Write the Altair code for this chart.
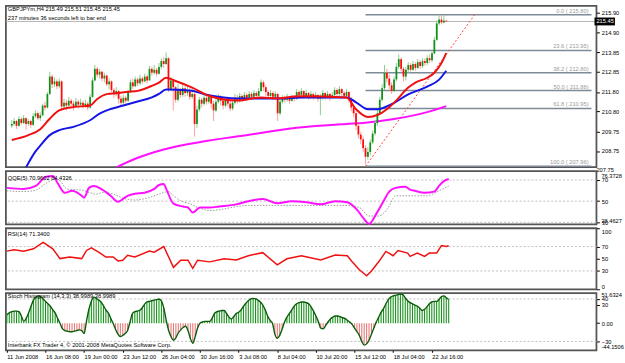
import altair as alt
import pandas as pd

FONT = "Liberation Sans"
FS = 5.8

symbol_title = "GBPJPYm,H4  215.49 215.51 215.45 215.45"
timer_text = "237 minutes 36 seconds left to bar end"
qqe_title = "QQE(5) 70.9602 64.4326"
rsi_title = "RSI(14) 71.3400"
stoch_title = "Stoch Histogram (14,3,3) 38.9989 38.9989"
copyright_text = "Interbank FX Trader 4, \u00a9 2001-2008 MetaQuotes Software Corp."

# ---------------- candles (H4 bars) ----------------
bar_close = [
    210.15, 210.30, 210.05, 210.40, 210.20, 210.45, 210.15, 210.30, 210.10, 210.55,
    210.70, 210.45, 210.60, 211.10, 211.00, 211.70, 212.60, 212.20, 212.35, 212.10,
    212.35, 211.05, 211.25, 211.10, 211.35, 211.20, 211.05, 211.30, 211.15, 211.25,
    211.10, 211.20, 211.00, 211.55, 212.40, 213.00, 212.70, 212.85, 212.50, 212.65,
    212.20, 212.35, 211.90, 211.70, 211.85, 211.45, 211.25, 211.50, 211.35, 211.80,
    212.30, 212.10, 212.45, 212.25, 212.50, 212.35, 212.60, 212.40, 213.00, 212.80,
    212.95, 212.75, 213.10, 213.40, 213.25, 213.55, 211.95, 212.40, 212.05, 211.40,
    211.90, 211.65, 212.00, 211.75, 211.90, 211.55, 211.70, 210.15, 210.90, 211.40,
    211.20, 211.50, 211.30, 211.55, 211.20, 210.85, 211.30, 211.55, 211.35, 211.10,
    211.40, 211.20, 210.95, 211.25, 211.50, 211.35, 211.60, 211.45, 211.65, 211.50,
    211.70, 211.55, 211.75, 211.60, 211.85, 212.30, 212.05, 211.80, 211.60, 211.75,
    211.55, 211.70, 210.70, 211.30, 211.50, 211.40, 211.55, 211.35, 211.50, 211.45,
    211.80, 211.65, 211.85, 211.60, 211.75, 211.55, 211.70, 211.50, 211.65, 211.45,
    211.50, 211.75, 211.55, 211.70, 211.50, 211.65, 211.90, 211.70, 211.95, 211.75,
    211.60, 211.80, 211.45, 211.00, 210.70, 210.05, 209.60, 209.35, 208.90, 208.45,
    208.70, 209.20, 209.65, 210.20, 210.70, 211.40, 212.00, 212.80, 212.50, 212.15,
    211.85, 212.45, 213.10, 213.50, 213.00, 212.60, 212.95, 213.20, 212.95, 213.25,
    213.05, 213.35, 213.15, 213.40, 213.30, 213.55, 213.45, 213.80, 214.50, 215.35,
    215.55, 215.40, 215.49, 215.45,
]
bar_high = [
    210.35, 210.45, 210.35, 210.55, 210.50, 210.60, 210.50, 210.40, 210.35, 210.70,
    210.85, 210.80, 210.75, 211.20, 211.30, 211.80, 212.85, 212.70, 212.55, 212.45,
    212.50, 212.40, 211.45, 211.40, 211.55, 211.45, 211.35, 211.50, 211.40, 211.45,
    211.35, 211.40, 211.30, 211.70, 212.55, 213.20, 213.10, 213.00, 212.90, 212.80,
    212.70, 212.50, 212.40, 212.00, 212.05, 211.90, 211.60, 211.65, 211.60, 211.90,
    212.45, 212.50, 212.60, 212.55, 212.70, 212.60, 212.75, 212.70, 213.15, 213.10,
    213.20, 213.05, 213.30, 213.55, 213.60, 213.85, 213.60, 212.55, 212.45, 212.10,
    212.20, 212.00, 212.25, 212.10, 212.15, 212.00, 211.95, 211.80, 211.10, 211.55,
    211.50, 211.65, 211.60, 211.70, 211.60, 211.35, 211.45, 211.70, 211.65, 211.50,
    211.55, 211.50, 211.35, 211.40, 211.70, 211.65, 211.75, 211.70, 211.80, 211.75,
    211.85, 211.80, 211.90, 211.85, 212.00, 212.45, 212.40, 212.15, 211.90, 211.90,
    211.85, 211.85, 211.75, 211.45, 211.65, 211.60, 211.70, 211.60, 211.65, 211.65,
    211.95, 211.90, 212.00, 211.90, 211.90, 211.80, 211.85, 211.75, 211.80, 211.70,
    211.70, 211.90, 211.80, 211.85, 211.75, 211.80, 212.05, 212.00, 212.10, 212.00,
    211.85, 211.95, 211.85, 211.55, 211.10, 210.80, 210.15, 209.75, 209.50, 209.05,
    208.95, 209.35, 209.80, 210.35, 210.90, 211.55, 212.20, 213.20, 213.00, 212.70,
    212.30, 212.60, 213.30, 213.75, 213.60, 213.10, 213.10, 213.35, 213.30, 213.40,
    213.35, 213.50, 213.45, 213.55, 213.55, 213.70, 213.75, 213.90, 214.65, 215.50,
    215.80, 215.75, 215.78, 215.51,
]
bar_low = [
    209.95, 210.05, 209.90, 210.00, 210.10, 210.15, 209.85, 210.05, 209.95, 210.05,
    210.45, 210.35, 210.30, 210.55, 210.85, 210.95, 211.65, 212.00, 212.05, 211.95,
    212.00, 210.90, 210.95, 210.85, 211.05, 211.00, 210.85, 211.00, 210.95, 211.05,
    210.95, 211.00, 210.85, 210.95, 211.50, 212.35, 212.55, 212.50, 212.35, 212.30,
    212.10, 211.95, 211.80, 211.50, 211.60, 211.20, 211.05, 211.15, 211.20, 211.30,
    211.75, 211.95, 212.05, 212.10, 212.15, 212.20, 212.30, 212.25, 212.40, 212.65,
    212.70, 212.60, 212.70, 213.00, 213.05, 213.20, 211.80, 211.85, 210.85, 211.25,
    211.30, 211.50, 211.55, 211.55, 211.60, 211.40, 211.45, 209.50, 209.95, 210.80,
    211.00, 211.10, 211.15, 211.20, 210.95, 210.30, 210.75, 211.20, 211.10, 210.90,
    211.00, 211.05, 210.80, 210.85, 211.15, 211.20, 211.25, 211.30, 211.35, 211.35,
    211.40, 211.40, 211.45, 211.45, 211.50, 211.80, 211.85, 211.60, 211.45, 211.45,
    211.40, 211.45, 210.30, 210.60, 211.20, 211.25, 211.30, 211.20, 211.30, 211.30,
    211.40, 211.50, 211.55, 211.45, 211.50, 211.40, 211.45, 211.40, 211.45, 211.30,
    210.60, 211.40, 211.40, 211.45, 211.35, 211.45, 211.55, 211.55, 211.60, 211.55,
    211.45, 211.50, 211.25, 210.80, 210.50, 209.85, 209.40, 209.10, 208.70, 208.06,
    208.30, 208.55, 209.10, 209.55, 210.05, 210.60, 211.30, 211.90, 212.30, 211.95,
    211.70, 211.80, 212.35, 213.00, 212.85, 212.35, 212.40, 212.80, 212.85, 212.90,
    212.90, 213.00, 213.00, 213.05, 213.15, 213.20, 213.30, 213.35, 213.75, 214.45,
    215.25, 215.30, 215.35, 215.45,
]
first_open = 210.05
bar_open = [first_open] + bar_close[:-1]

# ---------------- moving averages (read at sample bars) ----------------
ma_red_bar = [0, 7, 12, 16, 20, 26, 33, 36, 40, 44, 49, 53, 59, 62, 65, 69, 76, 83, 95, 105,
              112, 121, 141, 145, 150, 154, 158, 162, 167, 170, 175, 178, 181, 183]
ma_red_val = [209.32, 209.57, 209.88, 210.42, 210.85, 211.02, 211.10, 211.44, 211.69, 211.74,
              211.81, 211.86, 212.12, 212.29, 212.54, 212.37, 212.03, 211.61, 211.36, 211.52,
              211.47, 211.58, 211.52, 210.91, 210.51, 210.61, 210.91, 211.37, 212.03, 212.29,
              212.54, 212.80, 213.30, 213.81]
ma_blue_bar = [6, 10, 12, 16, 20, 26, 33, 37, 40, 47, 53, 59, 62, 65, 75, 83, 95, 112, 123,
               141, 145, 150, 154, 160, 167, 175, 180, 183]
ma_blue_val = [207.90, 208.73, 209.03, 209.57, 209.83, 210.00, 210.34, 210.68, 210.85, 211.10,
               211.31, 211.52, 211.70, 211.93, 211.88, 211.63, 211.47, 211.47, 211.52, 211.52,
               211.27, 210.91, 210.91, 211.17, 211.68, 212.08, 212.44, 212.90]
ma_mag_bar = [44, 52, 64, 80, 100, 120, 141, 148, 161, 175, 183]
ma_mag_val = [207.90, 208.35, 208.83, 209.23, 209.59, 209.95, 210.15, 210.20, 210.40, 210.76, 211.07]

# ---------------- Fibonacci retracement ----------------
fib_levels = [0.0, 23.6, 38.2, 50.0, 61.8, 100.0]
fib_prices = [215.80, 213.95, 212.80, 211.88, 210.95, 207.96]
fib_start_bar = 149
fib_trend_bars = [149, 195]
fib_trend_prices = [207.96, 215.80]
bid_price = 215.45

price_ticks = [215.90, 214.90, 213.85, 212.85, 211.80, 210.80, 209.75, 208.75]
price_below = 207.75

# ---------------- QQE ----------------
qqe_bar = [0, 7, 12, 16, 19, 21, 24, 27, 31, 32, 34, 36, 39, 43, 46, 50, 53, 57, 61, 63,
           65, 66, 69, 73, 75, 77, 80, 84, 88, 95, 100, 106, 112, 118, 124, 130, 136, 141, 145, 148,
           150, 153, 156, 158, 161, 165, 167, 169, 173, 177, 179, 181, 183]
qqe_val = [62.6, 61.6, 64.4, 72.8, 73.7, 67.2, 57.9, 59.8, 55.1, 53.3, 62.6, 64.4, 61.6, 55.1, 49.5,
           55.1, 57.0, 57.9, 61.6, 65.3, 66.3, 61.6, 47.7, 44.9, 44.0, 39.3, 44.0, 44.0, 45.0, 47.0,
           50.0, 52.0, 48.0, 50.0, 49.0, 47.0, 50.0, 49.0, 42.0, 33.0, 28.5, 38.0, 50.0, 58.0, 62.6,
           63.6, 61.0, 59.8, 57.9, 59.0, 64.4, 69.0, 70.96]
qqe_slow_bar = [0, 7, 12, 16, 20, 22, 25, 31, 37, 40, 44, 48, 53, 59, 63, 67, 69, 72, 76, 79, 84,
                100, 120, 140, 146, 150, 154, 158, 161, 174, 179, 183]
qqe_slow_val = [59.8, 59.1, 60.4, 66.6, 70.6, 69.1, 61.3, 60.4, 56.7, 58.2, 56.7, 53.0, 51.1, 53.5,
                56.7, 59.1, 55.1, 50.5, 47.4, 44.2, 41.2, 46.0, 46.0, 46.0, 44.0, 36.0, 36.0, 44.0,
                55.1, 55.1, 59.8, 64.43]
qqe_levels = [70, 50, 30]
qqe_max, qqe_min = 76.3728, 28.4627

# ---------------- RSI ----------------
rsi_bar = [0, 3, 7, 11, 15, 16, 19, 22, 26, 31, 33, 35, 38, 41, 44, 46, 48, 50, 53, 59, 61, 65,
           67, 69, 72, 75, 77, 79, 84, 90, 95, 100, 106, 112, 116, 122, 130, 136, 141, 143, 146,
           149, 151, 154, 157, 160, 162, 166, 167, 170, 173, 175, 178, 180, 182, 183]
rsi_val = [62.5, 64.7, 62.5, 66.3, 77.0, 74.3, 66.3, 50.3, 52.9, 50.3, 63.6, 67.9, 60.9, 52.9,
           52.9, 46.5, 47.6, 55.6, 52.9, 62.5, 60.9, 70.0, 52.9, 35.9, 47.6, 47.6, 34.3, 47.6, 44.9,
           50.0, 48.0, 55.0, 60.0, 40.0, 50.0, 55.0, 48.0, 56.0, 55.0, 45.0, 32.0, 22.0, 30.0, 45.0,
           62.0, 55.0, 63.6, 59.3, 54.0, 59.3, 54.0, 59.3, 59.3, 71.6, 70.0, 71.34]
rsi_levels = [70, 30]
rsi_ticks = [100, 70, 50, 30, 0]

# ---------------- Stoch histogram (one value per bar) ----------------
stoch_val = [
    14, 17, 19, 20, 20, 19, 12, 3, 8, 17,
    28, 38, 43, 45, 44, 40, 36, 32, 28, 22,
    17, 8, 0, -9, -12, -13, -14, -14, -13, -12,
    -11, -12, -17, 4, 23, 36, 43, 41, 38, 35,
    29, 22, 17, 8, 0, -10, -18, -22, -20, -17,
    -12, 2, 16, 19, 20, 21, 25, 31, 35, 36,
    37, 38, 39, 40, 37, 25, 5, -12, -22, -28,
    -24, -16, -11, -7, -5, -12, -25, -33, -22, -8,
    0, 2, 3, 3, 3, 8, 16, 19, 20, 21,
    21, 16, 10, 7, 11, 16, 18, 22, 28, 33,
    37, 40, 41, 40, 38, 35, 30, 22, 12, 5,
    0, -18, -25, -20, -10, 2, 10, 16, 22, 28,
    32, 34, 35, 35, 34, 32, 27, 20, 12, 3,
    -8, -9, -4, 2, 7, 10, 12, 12, 11, 9,
    8, 5, 2, -2, -8, -14, -20, -30, -36, -34,
    -28, -18, -8, 2, 10, 18, 24, 32, 39, 43,
    45, 46, 47, 48, 47, 42, 37, 34, 32, 30,
    28, 25, 21, 23, 27, 32, 35, 36, 36, 39,
    44, 45, 42, 39,
]
stoch_levels = [40, -30]
stoch_ticks = [40, 30, 0, -30]
stoch_max, stoch_min = 51.6324, -44.1506

date_labels = ["11 Jun 2008", "16 Jun 08:00", "19 Jun 00:00", "23 Jun 12:00", "26 Jun 04:00",
               "30 Jun 16:00", "3 Jul 08:00", "8 Jul 04:00", "10 Jul 20:00", "15 Jul 12:00",
               "18 Jul 04:00", "22 Jul 16:00"]
date_step = 16

# ---------------- layout constants ----------------
X_MIN, X_MAX = -0.4, 244.2
W = 600
H_MAIN, H_QQE, H_RSI, H_STOCH = 164, 54, 62, 58

xs = alt.Scale(domain=[X_MIN, X_MAX], nice=False, zero=False)


def xenc(field, axis=None):
    return alt.X(field, scale=xs, axis=axis, title=None)


def txt(s, **kw):
    return alt.Chart(pd.DataFrame({"t": [s]})).mark_text(
        font=FONT, fontSize=FS, align="left", baseline="middle", color="black", **kw)


def make_axis(values, **kw):
    return alt.Axis(orient="right", values=values, labelFont=FONT, labelFontSize=FS,
                    labelColor="black", tickSize=3, tickColor="black", domain=False,
                    grid=False, title=None, labelPadding=2, **kw)


# ---------------- main price panel ----------------
N = len(bar_close)
bars = pd.DataFrame({"i": list(range(N)), "open": bar_open, "high": bar_high,
                     "low": bar_low, "close": bar_close})

ys_main = alt.Scale(domain=[207.91, 216.26], nice=False, zero=False)
ax_main = make_axis(price_ticks, format=".2f")


def ym(field):
    return alt.Y(field, scale=ys_main, axis=ax_main, title=None)


up = alt.datum.close >= alt.datum.open
wicks = alt.Chart(bars).mark_rule(strokeWidth=1).encode(
    x=xenc("i:Q"), y=ym("low:Q"), y2="high:Q",
    color=alt.condition(up, alt.value("#8ccf8c"), alt.value("#ff9c9c")))
bodies = alt.Chart(bars).mark_bar(size=1.8).encode(
    x=xenc("i:Q"), y=ym("open:Q"), y2="close:Q",
    color=alt.condition(up, alt.value("#12901a"), alt.value("#ff0a0a")))

red_df = pd.DataFrame({"i": ma_red_bar, "v": ma_red_val})
blue_df = pd.DataFrame({"i": ma_blue_bar, "v": ma_blue_val})
mag_df = pd.DataFrame({"i": ma_mag_bar, "v": ma_mag_val})
ma_red = alt.Chart(red_df).mark_line(color="#f01010", strokeWidth=2, interpolate="monotone", clip=True).encode(
    x=xenc("i:Q"), y=ym("v:Q"))
ma_blue = alt.Chart(blue_df).mark_line(color="#1515e6", strokeWidth=2, interpolate="monotone", clip=True).encode(
    x=xenc("i:Q"), y=ym("v:Q"))
ma_mag = alt.Chart(mag_df).mark_line(color="#ff10ff", strokeWidth=2, interpolate="monotone", clip=True).encode(
    x=xenc("i:Q"), y=ym("v:Q"))

fib_df = pd.DataFrame({
    "p": fib_prices,
    "x1": [fib_start_bar] * len(fib_prices),
    "x2": [X_MAX] * len(fib_prices),
    "label": [f"{lv:.1f}  ( {p:.2f})" for lv, p in zip(fib_levels, fib_prices)],
})
fib_rules = alt.Chart(fib_df).mark_rule(color="#7d8a98", strokeWidth=1.5).encode(
    x=xenc("x1:Q"), x2="x2:Q", y=ym("p:Q"))
fib_text = alt.Chart(fib_df).mark_text(font=FONT, fontSize=FS, color="#9a9a9a", align="right",
                                       baseline="bottom", dx=-3, dy=-1).encode(
    x=xenc("x2:Q"), y=ym("p:Q"), text="label:N")
trend_df = pd.DataFrame({"i": fib_trend_bars, "p": fib_trend_prices})
trend = alt.Chart(trend_df).mark_line(color="#ff4040", strokeWidth=1, strokeDash=[2, 2]).encode(
    x=xenc("i:Q"), y=ym("p:Q"))

bid_df = pd.DataFrame({"p": [bid_price], "x": [X_MAX], "label": [f"{bid_price:.2f}"]})
bid_rule = alt.Chart(bid_df).mark_rule(color="#b4b4b4", strokeWidth=1).encode(y=ym("p:Q"))
bid_box = alt.Chart(bid_df).mark_point(shape="M0,-1 L5.2,-1 L5.2,1 L0,1 Z", filled=True, size=64,
                                       color="black", opacity=1, xOffset=3).encode(
    x=xenc("x:Q"), y=ym("p:Q"))
bid_text = alt.Chart(bid_df).mark_text(font=FONT, fontSize=FS, color="white", align="left", dx=5).encode(
    x=xenc("x:Q"), y=ym("p:Q"), text="label:N")
below_df = pd.DataFrame({"p": [price_below], "x": [X_MAX], "label": [f"{price_below:.2f}"]})
below_text = alt.Chart(below_df).mark_text(font=FONT, fontSize=FS, color="black", align="left", dx=5).encode(
    x=xenc("x:Q"), y=ym("p:Q"), text="label:N")

main = alt.layer(
    bid_rule, fib_rules, trend, ma_mag, wicks, bodies, ma_blue, ma_red, fib_text,
    bid_box, bid_text, below_text,
    txt(symbol_title).encode(text="t:N", x=alt.value(2), y=alt.value(3)),
    txt(timer_text).encode(text="t:N", x=alt.value(2), y=alt.value(12)),
).properties(width=W, height=H_MAIN)

# ---------------- QQE panel ----------------
ys_qqe = alt.Scale(domain=[28.14, 78.37], nice=False, zero=False)
ax_qqe = make_axis(qqe_levels)


def yq(field):
    return alt.Y(field, scale=ys_qqe, axis=ax_qqe, title=None)


qqe_df = pd.DataFrame({"i": qqe_bar, "v": qqe_val})
qqe_slow_df = pd.DataFrame({"i": qqe_slow_bar, "v": qqe_slow_val})
qqe_lv_df = pd.DataFrame({"v": qqe_levels})
qqe_ext_df = pd.DataFrame({"v": [qqe_max, qqe_min], "x": [X_MAX, X_MAX],
                           "label": [f"{qqe_max:.4f}", f"{qqe_min:.4f}"]})
qqe_chart = alt.layer(
    alt.Chart(qqe_lv_df).mark_rule(color="#c0c0c0", strokeDash=[2, 2], strokeWidth=1).encode(y=yq("v:Q")),
    alt.Chart(qqe_slow_df).mark_line(color="#9a9a9a", strokeDash=[1.5, 1.5], strokeWidth=1,
                                     interpolate="monotone").encode(x=xenc("i:Q"), y=yq("v:Q")),
    alt.Chart(qqe_df).mark_line(color="#ff10ff", strokeWidth=2, interpolate="monotone").encode(
        x=xenc("i:Q"), y=yq("v:Q")),
    alt.Chart(qqe_ext_df.iloc[:1]).mark_text(font=FONT, fontSize=FS, align="left", baseline="top", dx=5).encode(
        x=xenc("x:Q"), y=yq("v:Q"), text="label:N"),
    alt.Chart(qqe_ext_df.iloc[1:]).mark_text(font=FONT, fontSize=FS, align="left", baseline="bottom", dx=5).encode(
        x=xenc("x:Q"), y=yq("v:Q"), text="label:N"),
    txt(qqe_title).encode(text="t:N", x=alt.value(2), y=alt.value(7)),
).properties(width=W, height=H_QQE)

# ---------------- RSI panel ----------------
ys_rsi = alt.Scale(domain=[0, 100], nice=False, zero=False)
ax_rsi = make_axis(rsi_ticks, labelFlush=True)


def yr(field):
    return alt.Y(field, scale=ys_rsi, axis=ax_rsi, title=None)


rsi_df = pd.DataFrame({"i": rsi_bar, "v": rsi_val})
rsi_lv_df = pd.DataFrame({"v": rsi_levels})
rsi_chart = alt.layer(
    alt.Chart(rsi_lv_df).mark_rule(color="#c0c0c0", strokeDash=[2, 2], strokeWidth=1).encode(y=yr("v:Q")),
    alt.Chart(rsi_df).mark_line(color="#f01010", strokeWidth=1.5).encode(x=xenc("i:Q"), y=yr("v:Q")),
    txt(rsi_title).encode(text="t:N", x=alt.value(2), y=alt.value(6)),
).properties(width=W, height=H_RSI)

# ---------------- Stoch histogram panel ----------------
ys_st = alt.Scale(domain=[-44.57, 49.43], nice=False, zero=False)
ax_st = make_axis(stoch_ticks, labelExpr="datum.value == 0 ? '0.00' : datum.label")
label_js = "[" + ",".join("'" + s + "'" for s in date_labels) + "]"
ax_x = alt.Axis(orient="bottom", values=[k * date_step for k in range(len(date_labels))],
                labelExpr=label_js + f"[round(datum.value / {date_step})]",
                labelFont=FONT, labelFontSize=FS, labelColor="black", labelAlign="left",
                labelBaseline="top", labelPadding=1, tickSize=2, tickColor="black",
                domain=False, grid=False, title=None, labelOverlap=False, labelFlush=False)


def ys_(field):
    return alt.Y(field, scale=ys_st, axis=ax_st, title=None)


def xs_(field):
    return alt.X(field, scale=xs, axis=ax_x, title=None)


st_df = pd.DataFrame({"i": list(range(len(stoch_val))), "v": stoch_val})
st_lv_df = pd.DataFrame({"v": stoch_levels})
st_ext_df = pd.DataFrame({"v": [stoch_max, stoch_min], "x": [X_MAX, X_MAX],
                          "label": [f"{stoch_max:.4f}", f"{stoch_min:.4f}"]})
stoch_chart = alt.layer(
    alt.Chart(st_lv_df).mark_rule(color="#c0c0c0", strokeDash=[2, 2], strokeWidth=1).encode(y=ys_("v:Q")),
    alt.Chart(st_df).transform_calculate(zero="0").mark_rule(strokeWidth=1.1).encode(
        x=xs_("i:Q"), y=ys_("v:Q"), y2="zero:Q",
        color=alt.condition(alt.datum.v >= 0, alt.value("#17921a"), alt.value("#e67878"))),
    alt.Chart(st_df).mark_line(color="#0b5d0b", strokeWidth=1.4, interpolate="monotone").encode(
        x=xs_("i:Q"), y=ys_("v:Q")),
    alt.Chart(st_ext_df.iloc[:1]).mark_text(font=FONT, fontSize=FS, align="left", baseline="top", dx=5).encode(
        x=xs_("x:Q"), y=ys_("v:Q"), text="label:N"),
    alt.Chart(st_ext_df.iloc[1:]).mark_text(font=FONT, fontSize=FS, align="left", baseline="bottom", dx=5).encode(
        x=xs_("x:Q"), y=ys_("v:Q"), text="label:N"),
    txt(stoch_title).encode(text="t:N", x=alt.value(2), y=alt.value(3)),
    txt(copyright_text).encode(text="t:N", x=alt.value(2), y=alt.value(53)),
).properties(width=W, height=H_STOCH)

chart = alt.vconcat(main, qqe_chart, rsi_chart, stoch_chart, spacing=4, bounds="flush").properties(
    padding={"left": 2, "top": 2, "right": 0, "bottom": 0},
    background="white",
).configure_view(stroke="#555555", strokeWidth=1.8)

chart.save("out.html", embed_options={"renderer": "svg", "actions": False})
